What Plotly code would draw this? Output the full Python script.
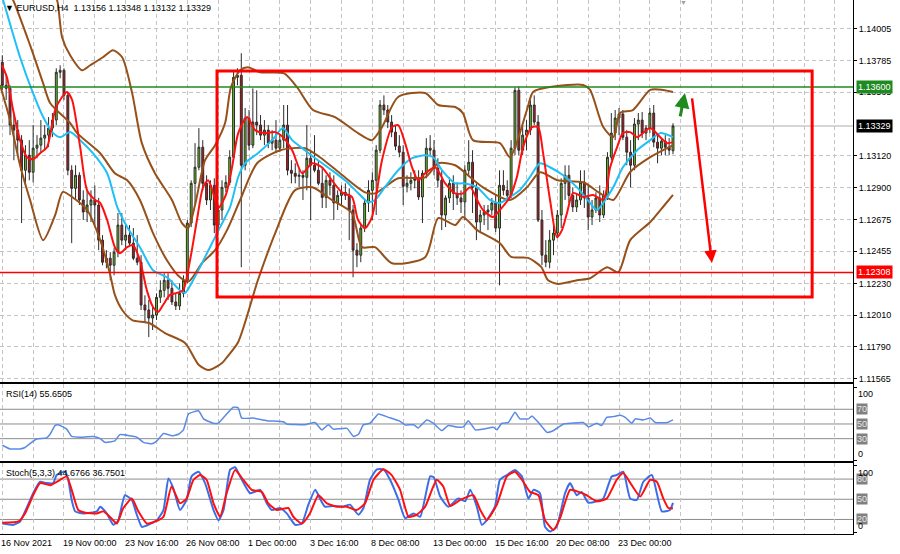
import plotly.graph_objects as go

# ---------------- data (EURUSD H4) ----------------
opens = [1.13773,1.13612,1.13591,1.13335,1.13300,1.13230,1.13020,1.13125,1.13006,1.13174,
 1.13195,1.13244,1.13265,1.13314,1.13370,1.13703,1.13717,1.13542,1.13020,1.12894,
 1.12985,1.12813,1.12729,1.12778,1.12813,1.12778,1.12533,1.12379,1.12407,1.12358,
 1.12449,1.12638,1.12533,1.12568,1.12512,1.12407,1.12379,1.12081,1.12046,1.11990,
 1.12011,1.12134,1.12183,1.12253,1.12197,1.12102,1.12074,1.12162,1.12253,1.12652,
 1.12929,1.13041,1.13181,1.12929,1.12813,1.12915,1.12638,1.12743,1.12901,1.12936,
 1.13111,1.13668,1.13682,1.13055,1.13384,1.13195,1.13356,1.13335,1.13265,1.13300,
 1.13209,1.13230,1.13174,1.13230,1.13335,1.13020,1.12999,1.12978,1.12985,1.12971,
 1.13104,1.13055,1.13020,1.12929,1.12831,1.12950,1.12915,1.12792,1.12845,1.12866,
 1.12845,1.12743,1.12463,1.12428,1.12617,1.12792,1.12880,1.12950,1.13160,1.13475,
 1.13440,1.13356,1.13286,1.13188,1.13146,1.12908,1.12929,1.12950,1.12964,1.12834,
 1.12999,1.13174,1.13160,1.13034,1.12950,1.12708,1.12827,1.12929,1.12859,1.12827,
 1.12799,1.13020,1.13076,1.12901,1.12659,1.12708,1.12729,1.12743,1.12792,1.12617,
 1.12915,1.12880,1.12845,1.13174,1.13577,1.13160,1.13265,1.13300,1.13475,1.13356,
 1.12673,1.12428,1.12379,1.12533,1.12582,1.12708,1.12929,1.12985,1.12845,1.12764,
 1.12813,1.12936,1.12827,1.12694,1.12743,1.12827,1.12708,1.12845,1.13111,1.13279,
 1.13384,1.13412,1.13251,1.13146,1.13055,1.13342,1.13370,1.13279,1.13314,1.13419,
 1.13216,1.13174,1.13223,1.13181,1.13156]
highs = [1.13822,1.13682,1.13612,1.13405,1.13370,1.13265,1.13195,1.13230,1.13335,1.13265,
 1.13370,1.13335,1.13391,1.13419,1.13731,1.13752,1.13731,1.13563,1.13055,1.13055,
 1.13006,1.12880,1.12880,1.12880,1.12915,1.12827,1.12568,1.12463,1.12449,1.12477,
 1.12722,1.12722,1.12638,1.12638,1.12617,1.12568,1.12428,1.12148,1.12116,1.12067,
 1.12162,1.12253,1.12302,1.12302,1.12253,1.12162,1.12232,1.12288,1.12673,1.12950,
 1.13209,1.13314,1.13230,1.12985,1.12950,1.12964,1.12778,1.12950,1.12985,1.13160,
 1.13717,1.13731,1.13836,1.13454,1.13440,1.13591,1.13577,1.13405,1.13370,1.13335,
 1.13300,1.13370,1.13265,1.13475,1.13475,1.13090,1.13069,1.13034,1.13020,1.13335,
 1.13160,1.13265,1.13090,1.13041,1.12985,1.13006,1.12985,1.12880,1.12915,1.12929,
 1.12894,1.12778,1.12512,1.12638,1.12813,1.12950,1.13006,1.13195,1.13510,1.13542,
 1.13475,1.13405,1.13335,1.13265,1.13195,1.12985,1.13006,1.13020,1.13020,1.13020,
 1.13244,1.13265,1.13230,1.13104,1.13020,1.12845,1.12971,1.12985,1.12936,1.12880,
 1.13055,1.13230,1.13160,1.12929,1.12743,1.12778,1.12778,1.12827,1.12848,1.13020,
 1.13020,1.12950,1.13230,1.13598,1.13605,1.13335,1.13370,1.13510,1.13542,1.13405,
 1.12743,1.12533,1.12603,1.12638,1.12743,1.12964,1.13055,1.13055,1.12901,1.12859,
 1.13020,1.13020,1.12915,1.12813,1.12866,1.12915,1.12880,1.13146,1.13419,1.13440,
 1.13454,1.13440,1.13300,1.13230,1.13384,1.13419,1.13426,1.13335,1.13454,1.13475,
 1.13265,1.13244,1.13265,1.13244,1.13348]
lows = [1.13580,1.13510,1.13265,1.13090,1.13125,1.12652,1.12915,1.12950,1.12936,1.13104,
 1.13146,1.13160,1.13181,1.13251,1.13335,1.13661,1.13510,1.12985,1.12512,1.12813,
 1.12778,1.12673,1.12659,1.12659,1.12638,1.12463,1.12358,1.12337,1.12253,1.12288,
 1.12414,1.12498,1.12463,1.12498,1.12393,1.12358,1.12046,1.11955,1.11857,1.11906,
 1.11976,1.12095,1.12134,1.12116,1.12081,1.12046,1.12046,1.12134,1.12232,1.12624,
 1.12778,1.13020,1.12880,1.12778,1.12743,1.12582,1.12603,1.12673,1.12866,1.12915,
 1.13090,1.13612,1.12344,1.13020,1.13160,1.13174,1.13265,1.13230,1.13195,1.13174,
 1.13160,1.13139,1.13146,1.13174,1.12985,1.12929,1.12929,1.12901,1.12813,1.12880,
 1.12673,1.13006,1.12915,1.12757,1.12757,1.12845,1.12673,1.12743,1.12778,1.12813,
 1.12533,1.12274,1.12344,1.12379,1.12589,1.12729,1.12673,1.12708,1.13139,1.13405,
 1.13314,1.13251,1.13160,1.13111,1.12778,1.12866,1.12880,1.12894,1.12813,1.12652,
 1.12964,1.13125,1.12985,1.12901,1.12603,1.12624,1.12792,1.12743,1.12778,1.12722,
 1.12673,1.12985,1.12722,1.12533,1.12582,1.12638,1.12603,1.12708,1.12589,1.12218,
 1.12845,1.12813,1.12827,1.13125,1.13125,1.13125,1.13160,1.13265,1.13335,1.12659,
 1.12358,1.12344,1.12337,1.12428,1.12547,1.12617,1.12813,1.12792,1.12729,1.12729,
 1.12778,1.12757,1.12603,1.12638,1.12722,1.12659,1.12687,1.12813,1.13090,1.13230,
 1.13265,1.13230,1.13055,1.12901,1.13020,1.13230,1.13244,1.13230,1.13279,1.13181,
 1.13069,1.13125,1.13125,1.13125,1.13132]
closes = [1.13612,1.13591,1.13335,1.13300,1.13230,1.13020,1.13125,1.13006,1.13174,1.13195,
 1.13244,1.13265,1.13314,1.13370,1.13703,1.13717,1.13542,1.13020,1.12894,1.12985,
 1.12813,1.12729,1.12778,1.12813,1.12778,1.12533,1.12379,1.12407,1.12358,1.12449,
 1.12638,1.12533,1.12568,1.12512,1.12407,1.12379,1.12081,1.12046,1.11990,1.12011,
 1.12134,1.12183,1.12253,1.12197,1.12102,1.12074,1.12162,1.12253,1.12652,1.12929,
 1.13041,1.13181,1.12929,1.12813,1.12915,1.12638,1.12743,1.12901,1.12936,1.13111,
 1.13668,1.13682,1.13055,1.13384,1.13195,1.13356,1.13335,1.13265,1.13300,1.13209,
 1.13230,1.13174,1.13230,1.13335,1.13020,1.12999,1.12978,1.12985,1.12971,1.13104,
 1.13055,1.13020,1.12929,1.12831,1.12950,1.12915,1.12792,1.12845,1.12866,1.12845,
 1.12743,1.12463,1.12428,1.12617,1.12792,1.12880,1.12950,1.13160,1.13475,1.13440,
 1.13356,1.13286,1.13188,1.13146,1.12908,1.12929,1.12950,1.12964,1.12834,1.12999,
 1.13174,1.13160,1.13034,1.12950,1.12708,1.12827,1.12929,1.12859,1.12827,1.12799,
 1.13020,1.13076,1.12901,1.12659,1.12708,1.12729,1.12743,1.12792,1.12617,1.12915,
 1.12880,1.12845,1.13174,1.13577,1.13160,1.13265,1.13300,1.13475,1.13356,1.12673,
 1.12428,1.12379,1.12533,1.12582,1.12708,1.12929,1.12985,1.12845,1.12764,1.12813,
 1.12936,1.12827,1.12694,1.12743,1.12827,1.12708,1.12845,1.13111,1.13279,1.13384,
 1.13412,1.13251,1.13146,1.13055,1.13342,1.13370,1.13279,1.13314,1.13419,1.13216,
 1.13174,1.13223,1.13181,1.13160,1.13329]

# indicator lines, read as (bar index, value) pairs
bb_upper = [(-0.6,1.14627),(7.2,1.14452),(12.4,1.14291),(14.2,1.14207),(15.5,1.13948),(17.6,1.13822),
 (20.7,1.13717),(22.8,1.13752),(26.1,1.13808),(28.7,1.13857),(31.1,1.13808),(33.7,1.13556),
 (36.2,1.13209),(39.6,1.12999),(44.0,1.12813),(46.6,1.12652),(48.2,1.12617),(50.0,1.12778),
 (52.6,1.13090),(55.2,1.13195),(57.8,1.13349),(59.3,1.13598),(61.7,1.13717),(63.7,1.13738),
 (66.9,1.13703),(73.1,1.13696),(76.5,1.13598),(80.6,1.13440),(86.3,1.13391),(92.3,1.13279),
 (95.9,1.13230),(98.5,1.13321),(102.7,1.13531),(109.7,1.13559),(113.1,1.13475),(117.5,1.13461),
 (119.5,1.13419),(122.1,1.13230),(129.1,1.13209),(131.7,1.13111),(136.1,1.13440),(137.7,1.13566),
 (142.1,1.13601),(150.7,1.13615),(152.5,1.13580),(155.9,1.13321),(158.5,1.13251),(160.3,1.13419),
 (163.6,1.13440),(168.1,1.13580),(171.4,1.13580),(174.0,1.13566)]
bb_middle = [(-0.6,1.14382),(2.8,1.14207),(7.2,1.13892),(10.6,1.13626),(12.4,1.13489),(17.6,1.13349),
 (19.4,1.13279),(25.4,1.13139),(29.2,1.12999),(32.4,1.12950),(35.7,1.12813),(39.1,1.12582),
 (42.7,1.12393),(46.1,1.12274),(48.4,1.12246),(51.8,1.12372),(55.2,1.12463),(58.3,1.12603),
 (61.7,1.12813),(66.1,1.13069),(72.1,1.13160),(78.5,1.13174),(82.4,1.13111),(87.6,1.12999),
 (94.1,1.12866),(96.7,1.12859),(102.7,1.12964),(109.7,1.12971),(113.1,1.13069),(117.5,1.13055),
 (121.4,1.12971),(124.7,1.12901),(131.7,1.12813),(136.1,1.12901),(139.5,1.13006),(144.0,1.12950),
 (150.7,1.12936),(155.1,1.12859),(158.5,1.12813),(162.9,1.13008),(168.1,1.13111),(174.0,1.13195)]
bb_lower = [(-0.6,1.13615),(2.0,1.13370),(4.6,1.13055),(7.2,1.12813),(10.6,1.12533),(13.7,1.12708),
 (15.7,1.12869),(18.1,1.12834),(22.0,1.12743),(25.4,1.12533),(27.9,1.12302),(29.2,1.12151),
 (31.1,1.12046),(33.7,1.11976),(38.1,1.11955),(42.2,1.11885),(47.4,1.11816),(51.0,1.11662),
 (53.6,1.11627),(57.0,1.11676),(58.3,1.11718),(61.2,1.11823),(66.3,1.12253),(70.8,1.12582),
 (75.9,1.12880),(80.4,1.12901),(85.5,1.12813),(90.7,1.12722),(93.3,1.12484),(96.7,1.12484),
 (101.1,1.12372),(109.7,1.12414),(113.1,1.12687),(117.5,1.12638),(119.5,1.12694),(123.2,1.12603),
 (129.1,1.12512),(132.0,1.12416),(136.4,1.12409),(139.8,1.12346),(141.6,1.12253),(144.2,1.12228),
 (149.1,1.12253),(152.5,1.12267),(156.9,1.12344),(159.8,1.12309),(162.9,1.12533),(168.1,1.12659),
 (171.4,1.12764),(174.0,1.12848)]
ma_fast = [(-0.1,1.13752),(1.2,1.13668),(2.8,1.13440),(4.6,1.13230),(6.4,1.13111),(8.0,1.13097),
 (9.8,1.13139),(11.6,1.13181),(13.7,1.13440),(15.5,1.13531),(16.8,1.13566),(18.1,1.13510),
 (20.2,1.13181),(22.0,1.12880),(24.1,1.12813),(25.4,1.12792),(27.2,1.12673),(29.2,1.12484),
 (30.5,1.12442),(32.4,1.12484),(33.9,1.12498),(35.7,1.12393),(37.5,1.12183),(39.1,1.12067),
 (40.4,1.12032),(41.7,1.12081),(43.5,1.12151),(45.3,1.12165),(46.9,1.12183),(48.7,1.12393),
 (50.5,1.12673),(52.1,1.12904),(53.4,1.12950),(54.7,1.12862),(56.0,1.12757),(58.0,1.12848),
 (59.6,1.13041),(61.2,1.13279),(63.5,1.13391),(65.6,1.13300),(68.2,1.13279),(70.8,1.13286),
 (72.8,1.13251),(75.2,1.13160),(77.8,1.12999),(80.4,1.13069),(82.9,1.13041),(85.5,1.12950),
 (88.1,1.12866),(90.7,1.12834),(92.3,1.12673),(94.1,1.12617),(95.9,1.12694),(98.5,1.13090),
 (101.1,1.13321),(102.7,1.13335),(104.5,1.13209),(106.3,1.13041),(107.9,1.12950),(109.7,1.12999),
 (112.3,1.13041),(114.9,1.12929),(117.5,1.12859),(119.5,1.12859),(121.4,1.12901),(123.2,1.12813),
 (124.7,1.12743),(127.3,1.12694),(129.1,1.12743),(131.7,1.12834),(133.5,1.12973),(135.1,1.13181),
 (137.4,1.13321),(139.0,1.13321),(140.3,1.13139),(142.1,1.12813),(143.9,1.12554),(145.2,1.12603),
 (146.5,1.12722),(148.1,1.12862),(150.7,1.12834),(153.3,1.12848),(155.9,1.12813),(157.7,1.13041),
 (159.5,1.13181),(161.0,1.13279),(162.9,1.13286),(164.7,1.13251),(166.2,1.13279),(168.1,1.13314),
 (170.7,1.13251),(172.5,1.13209),(174.0,1.13216)]
ma_slow = [(-0.6,1.14277),(0.2,1.14207),(4.6,1.13808),(8.0,1.13556),(10.6,1.13391),(13.2,1.13279),
 (15.0,1.13251),(17.6,1.13286),(20.2,1.13230),(23.5,1.13139),(27.2,1.12999),(29.8,1.12764),
 (32.4,1.12624),(35.7,1.12484),(39.1,1.12323),(42.7,1.12274),(46.1,1.12183),(47.4,1.12165),
 (49.5,1.12253),(53.1,1.12442),(56.5,1.12624),(59.1,1.12764),(61.2,1.12973),(63.0,1.13069),
 (66.3,1.13139),(70.0,1.13230),(72.8,1.13314),(75.2,1.13230),(78.5,1.13160),(81.9,1.13090),
 (85.5,1.13020),(88.9,1.12950),(92.3,1.12862),(94.9,1.12799),(96.7,1.12813),(99.3,1.12904),
 (102.7,1.13020),(106.3,1.13104),(109.7,1.13125),(111.8,1.13111),(114.1,1.13020),(117.5,1.12929),
 (119.5,1.12929),(123.2,1.12901),(126.5,1.12813),(129.1,1.12792),(131.7,1.12834),(134.3,1.12883),
 (136.9,1.12973),(139.5,1.13069),(142.1,1.13041),(145.5,1.12985),(149.1,1.12901),(152.5,1.12792),
 (154.3,1.12743),(155.9,1.12792),(158.5,1.12901),(161.0,1.13041),(164.7,1.13160),(168.1,1.13230),
 (170.7,1.13279),(174.0,1.13251)]
rsi_line = [(0,21),(2.0,16),(4.6,16),(5.9,18),(7.6,25),(8.9,29.5),(11.5,31),(12.4,36),(13.7,48),
 (14.5,49),(16.7,43),(18.0,33),(20.2,32),(23.6,33),(25.4,30),(26.6,25),(29.2,27),(30.5,35.5),
 (33.1,34),(34.9,32),(36.6,25),(38.8,23),(40.1,27),(41.8,37),(44.0,34),(45.7,36),(47.0,42),
 (48.3,63.6),(50.9,68),(52.2,57),(54.7,51),(56.0,51),(57.3,58),(59.9,72.8),(61.2,72),(62.1,58),
 (65.1,58),(68.6,54.5),(72.9,53),(73.8,50),(78.5,49),(81.1,52),(82.9,42),(84.6,49),(85.9,43),
 (89.4,44),(91.1,33),(92.4,36),(93.7,49),(95.4,51),(97.6,63.6),(100.2,59),(103.2,53.6),
 (104.5,48.6),(106.7,49),(107.9,44.5),(110.1,55.5),(111.8,51),(114.0,41),(115.7,48),(117.9,46),
 (119.6,46),(120.9,54.5),(122.7,42),(124.8,43),(127.4,45.5),(128.3,42),(129.6,51),(131.3,52),
 (133.0,66),(134.3,57),(136.5,57),(137.4,61),(139.1,52),(141.3,38.6),(142.6,40),(144.3,45.5),
 (145.6,50),(147.7,51),(150.7,52),(152.1,46),(154.2,51),(155.5,48),(156.8,59),(158.5,60),
 (160.3,62),(161.6,59),(163.3,51),(164.2,57),(166.3,55.5),(168.1,58),(169.4,52),(172.5,52),
 (174.0,55.65)]
stoch_main = [(0,14),(2.9,12),(4.6,17),(6.3,37),(8.0,59),(9.8,76),(11.5,74),(13.2,74),(14.1,86),
 (16.3,91),(17.1,79),(18.0,49),(18.9,32),(21.0,29),(24.5,32),(25.4,39),(27.1,29),(28.8,12),
 (30.1,19),(31.8,56),(33.6,49),(34.9,27),(36.2,9),(37.9,12),(40.1,19),(41.8,34),(43.1,81),
 (44.4,66),(46.1,34),(47.8,49),(49.1,84),(50.9,91),(52.6,74),(54.8,34),(56.1,19),(57.4,34),
 (59.1,94),(60.4,97.5),(61.7,84),(64.3,59),(66.9,64),(68.6,44),(69.9,34),(72.1,37),(73.8,29),
 (76.0,12),(77.7,14),(79.4,42),(81.2,64),(82.4,51),(83.7,39),(85.9,40),(88.5,39),(90.2,42),
 (92.4,27),(93.7,37),(95.4,79),(97.2,94.5),(98.9,94.5),(100.6,79),(102.8,49),(104.5,22),
 (106.7,29),(108.4,24),(111.0,84),(111.9,83),(113.6,54),(115.7,39),(118.3,51),(120.1,47),
 (121.4,64),(123.1,39),(124.4,12),(125.7,19),(127.8,39),(129.1,79),(130.9,86),(133.0,93.6),
 (134.8,84),(136.5,51),(137.8,64),(139.5,59),(140.8,9),(142.1,2),(143.8,9),(146.0,59),
 (147.3,74),(149.0,56),(150.3,61),(152.0,45),(154.2,47),(155.9,51),(158.1,84),(159.4,86),
 (161.1,91),(162.9,51),(164.6,49),(166.3,76),(168.5,86),(171.1,32),(173.2,34),(174.0,44.68)]
stoch_signal = [(0,15),(4.2,17),(5.9,29),(8.0,56),(9.8,74),(12.4,71),(15.0,79),(16.7,84),(18.0,64),
 (19.7,34),(21.5,30),(24.5,29),(26.2,32),(27.9,24),(29.7,14),(31.4,37),(33.6,51),(35.3,32),
 (37.5,14),(39.6,17),(41.8,24),(43.9,69),(46.1,44),(47.8,51),(49.6,79),(51.3,86),(53.0,79),
 (54.8,44),(56.5,24),(58.2,59),(60.4,93.6),(62.5,79),(64.7,64),(67.3,61),(69.0,44),(71.2,34),
 (74.2,37),(75.5,24),(77.7,14),(79.8,29),(82.0,56),(84.2,44),(86.8,39),(89.4,39),(91.9,34),
 (94.1,44),(96.3,79),(98.9,94.5),(101.0,86),(103.2,64),(105.4,24),(107.5,27),(109.7,39),
 (112.7,79),(114.4,69),(116.2,40),(118.8,49),(122.2,56),(124.0,34),(125.7,19),(128.3,42),
 (130.9,84),(133.0,91),(134.8,79),(136.9,61),(139.1,56),(140.8,19),(143.0,4.5),(144.7,22),
 (147.3,64),(149.5,61),(151.6,56),(154.2,47),(156.8,51),(159.4,79),(161.1,89),(163.3,71),
 (165.5,54),(168.1,79),(169.8,76),(171.5,51),(172.8,37),(174.0,36.75)]

date_labels = ["16 Nov 2021", "19 Nov 00:00", "23 Nov 16:00", "26 Nov 08:00", "1 Dec 00:00",
               "3 Dec 16:00", "8 Dec 08:00", "13 Dec 00:00", "15 Dec 16:00", "20 Dec 08:00", "23 Dec 00:00"]
date_label_bars = [0, 16, 32, 48, 64, 80, 96, 112, 128, 144, 160]
price_ticks = [1.14005, 1.13785, 1.13565, 1.13120, 1.12900, 1.12675, 1.12455,
               1.12230, 1.12010, 1.11790, 1.11565]
resistance = 1.13600
support = 1.12308
last_price = 1.13329
range_box = {"bar_from": 55.7, "bar_to": 210.1, "low": 1.12137, "high": 1.13712}
arrow_up = {"from": (175.8, 1.13385), "to": (177.1, 1.13559)}
arrow_down = {"from": (178.9, 1.13531), "to": (184.1, 1.12374)}
rsi_levels = [70, 50, 30]
stoch_levels = [80, 50, 20]

# ---------------- figure ----------------
FONT = "Liberation Sans, Arial, sans-serif"
FS = 9
W, H = 900.0, 554.0
PLOT_W = 853.0
bars = list(range(len(opens)))
fig = go.Figure()

fig.add_trace(go.Candlestick(
    x=bars, open=opens, high=highs, low=lows, close=closes,
    increasing=dict(line=dict(color="#2b2b2b", width=1), fillcolor="#66bf1c"),
    decreasing=dict(line=dict(color="#2b2b2b", width=1), fillcolor="#c0161b"),
    whiskerwidth=0, xaxis="x", yaxis="y", showlegend=False, hoverinfo="skip"))


def add_line(pairs, color, width, xa, ya, smooth=0.7):
    fig.add_trace(go.Scatter(
        x=[p[0] for p in pairs], y=[p[1] for p in pairs], mode="lines",
        line=dict(color=color, width=width, shape="spline", smoothing=smooth),
        xaxis=xa, yaxis=ya, showlegend=False, hoverinfo="skip"))


BROWN = "#96501a"
add_line(bb_upper, BROWN, 2, "x", "y")
add_line(bb_middle, BROWN, 2, "x", "y")
add_line(bb_lower, BROWN, 2, "x", "y")
add_line(ma_slow, "#1ec0f5", 2, "x", "y")
add_line(ma_fast, "#ff1010", 2, "x", "y")
add_line(rsi_line, "#5a8ae6", 1.5, "x2", "y2", 0.4)
add_line(stoch_main, "#3d6de6", 2, "x3", "y3", 0.5)
add_line(stoch_signal, "#ff1010", 2, "x3", "y3", 0.5)

XR = [-0.6, 220.7]


def dom(top_px, bot_px):
    return [1 - bot_px / H, 1 - top_px / H]


xcommon = dict(range=XR, domain=[0, 1], showgrid=True, gridcolor="#c4c4c4", griddash="4px,3px",
               gridwidth=1, tick0=0, dtick=8, showticklabels=False, ticks="", automargin=False,
               showline=True, linecolor="black", linewidth=1, mirror=True, zeroline=False)
ycommon = dict(side="right", showline=True, linecolor="black", linewidth=1, mirror=True,
               zeroline=False, ticks="outside", ticklen=3, tickcolor="black", automargin=False,
               tickfont=dict(family=FONT, size=FS, color="black"))

fig.update_layout(
    width=900, height=554, margin=dict(l=0, r=W - PLOT_W, t=0, b=0, pad=0),
    paper_bgcolor="white", plot_bgcolor="white", showlegend=False,
    font=dict(family=FONT, size=FS, color="black"),
    xaxis=dict(anchor="y", rangeslider=dict(visible=False), **xcommon),
    xaxis2=dict(anchor="y2", **xcommon),
    xaxis3=dict(anchor="y3", **xcommon),
    yaxis=dict(anchor="x", domain=dom(0, 382), range=[1.11544, 1.14207],
               tickvals=price_ticks, ticktext=[f"{v:.5f}" for v in price_ticks],
               showgrid=True, gridcolor="#c4c4c4", griddash="4px,3px", **ycommon),
    yaxis2=dict(anchor="x2", domain=dom(384, 461), range=[-0.4, 104.4],
                tickvals=[0, 100], ticktext=["", ""], showgrid=False, **ycommon),
    yaxis3=dict(anchor="x3", domain=dom(463, 534), range=[-1.6, 103.9],
                tickvals=[0, 100], ticktext=["", ""], showgrid=False, **ycommon),
)

shapes = []
shapes.append(dict(type="line", xref="x domain", x0=0, x1=1, yref="y", y0=last_price, y1=last_price,
                   line=dict(color="#c8c8c8", width=1.5), layer="below"))
shapes.append(dict(type="line", xref="x domain", x0=0, x1=1, yref="y", y0=resistance, y1=resistance,
                   line=dict(color="#1f8a1f", width=1.5)))
shapes.append(dict(type="line", xref="x domain", x0=0, x1=1, yref="y", y0=support, y1=support,
                   line=dict(color="#ff0000", width=1.5)))
shapes.append(dict(type="rect", xref="x", yref="y", x0=range_box["bar_from"], x1=range_box["bar_to"],
                   y0=range_box["low"], y1=range_box["high"], line=dict(color="#ff0000", width=3)))
for lv in rsi_levels:
    shapes.append(dict(type="line", xref="x2 domain", x0=0, x1=1, yref="y2", y0=lv, y1=lv,
                       line=dict(color="#8c8c8c", width=1), layer="below"))
for lv in stoch_levels:
    shapes.append(dict(type="line", xref="x3 domain", x0=0, x1=1, yref="y3", y0=lv, y1=lv,
                       line=dict(color="#8c8c8c", width=1), layer="below"))
fig.update_layout(shapes=shapes)


def px_x(px):
    return px / PLOT_W


ann = []
LBLX = px_x(856)
for val, txt, bg in [(resistance, "1.13600", "#1f8a1f"), (support, "1.12308", "#ff0000"),
                     (last_price, "1.13329", "black")]:
    ann.append(dict(xref="paper", yref="y", x=LBLX, y=val, text=txt, showarrow=False,
                    xanchor="left", yanchor="middle", bgcolor=bg,
                    font=dict(color="white", size=FS, family=FONT), borderpad=1))
for ya, levels in [("y2", rsi_levels), ("y3", stoch_levels)]:
    for lv in levels:
        ann.append(dict(xref="paper", yref=ya, x=LBLX, y=lv, text=str(lv), showarrow=False,
                        xanchor="left", yanchor="middle", bgcolor="#808080",
                        font=dict(color="#e8e8e8", size=FS, family=FONT), borderpad=0))
    ann.append(dict(xref="paper", yref=ya, x=LBLX, y=100, text="100", showarrow=False,
                    xanchor="left", yanchor="top", font=dict(size=FS, family=FONT)))
    ann.append(dict(xref="paper", yref=ya, x=LBLX, y=0, text="0", showarrow=False,
                    xanchor="left", yanchor="bottom", font=dict(size=FS, family=FONT)))
for b, t in zip(date_label_bars, date_labels):
    ann.append(dict(xref="x3", yref="paper", x=b, y=(H - 543) / H, text=t, showarrow=False,
                    xanchor="left", yanchor="middle", xshift=-3, font=dict(size=FS, family=FONT)))
ann.append(dict(xref="paper", yref="paper", x=px_x(3), y=1 - 8 / H,
                text="▼ EURUSD,H4  1.13156 1.13348 1.13132 1.13329",
                showarrow=False, xanchor="left", yanchor="middle", font=dict(size=FS, family=FONT)))
ann.append(dict(xref="paper", yref="paper", x=px_x(4), y=1 - 394 / H, text="RSI(14) 55.6505",
                showarrow=False, xanchor="left", yanchor="middle", font=dict(size=FS, family=FONT)))
ann.append(dict(xref="paper", yref="paper", x=px_x(4), y=1 - 473 / H, text="Stoch(5,3,3) 44.6766 36.7501",
                showarrow=False, xanchor="left", yanchor="middle", font=dict(size=FS, family=FONT)))
ann.append(dict(xref="paper", yref="paper", x=px_x(683), y=1 - 3 / H, text="▼", showarrow=False,
                xanchor="center", yanchor="middle", font=dict(size=7, color="#a0a0a0", family=FONT)))
ann.append(dict(xref="x", yref="y", x=arrow_up["to"][0], y=arrow_up["to"][1],
                axref="x", ayref="y", ax=arrow_up["from"][0], ay=arrow_up["from"][1], text="",
                showarrow=True, arrowhead=2, arrowsize=1, arrowwidth=3, arrowcolor="#1f8a1f"))
ann.append(dict(xref="x", yref="y", x=arrow_down["to"][0], y=arrow_down["to"][1],
                axref="x", ayref="y", ax=arrow_down["from"][0], ay=arrow_down["from"][1], text="",
                showarrow=True, arrowhead=2, arrowsize=1, arrowwidth=2.5, arrowcolor="#ff0000"))
fig.update_layout(annotations=ann)

fig.write_html("out.html", config={"displayModeBar": False},
               post_script="document.body.style.margin='0px';document.body.style.overflow='hidden';")
